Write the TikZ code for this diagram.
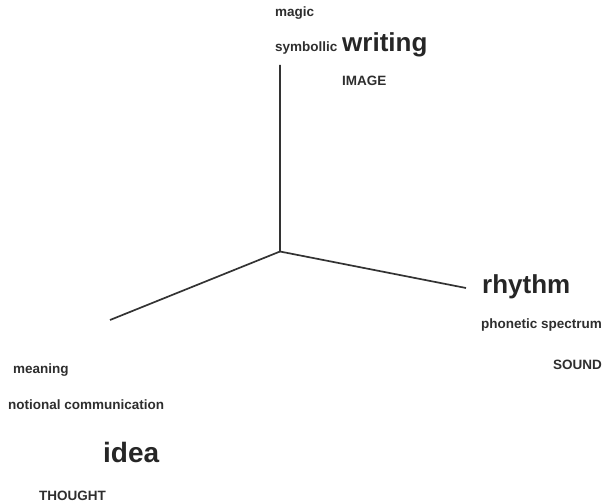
\documentclass[tikz,border=0pt]{standalone}
\usepackage{fontspec}
\setmainfont{Liberation Sans}
\begin{document}
\begin{tikzpicture}[x=1pt,y=-1pt,
  lbl/.style={anchor=base west,inner sep=0pt,text=black!82,font=\fontsize{13.5}{15}\selectfont\bfseries},
  big/.style={anchor=base west,inner sep=0pt,text=black!85,font=\fontsize{26}{28}\selectfont\bfseries},
  axis/.style={line width=1.7pt,draw=black!80}]
\useasboundingbox (0,0) rectangle (608,503);
\coordinate (O) at (280,251.5);
\coordinate (up) at (280,65);
\coordinate (right) at (466,288);
\coordinate (left) at (110,320);
\draw[axis] (up) -- (O) -- (right);
\draw[axis] (O) -- (left);
\node[lbl] (magic) at (275,17) {magic};
\node[lbl] (symb) at (275,52) {symbollic};
\node[big] (writing) at (342,52) {writing};
\node[lbl] (image) at (342,85) {IMAGE};
\node[big] (rhythm) at (482,293) {rhythm};
\node[lbl] (phon) at (481,328) {phonetic spectrum};
\node[lbl] (sound) at (553,369) {SOUND};
\node[lbl] (meaning) at (13,373) {meaning};
\node[lbl] (notional) at (8,409) {notional communication};
\node[big,font=\fontsize{28}{30}\selectfont\bfseries] (idea) at (103,462) {idea};
\node[lbl] (thought) at (39,500) {THOUGHT};
\end{tikzpicture}
\end{document}
